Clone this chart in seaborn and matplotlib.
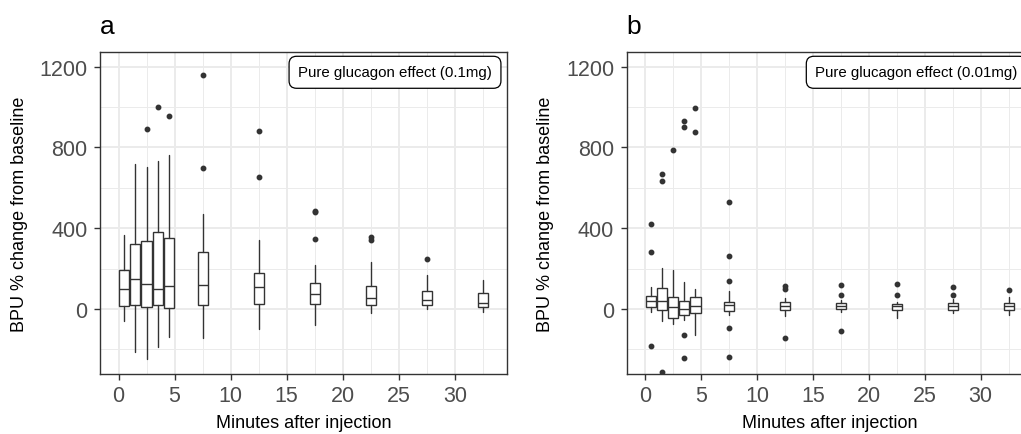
import numpy as np
import matplotlib
matplotlib.use("Agg")
import matplotlib.pyplot as plt
from matplotlib.ticker import MultipleLocator
import seaborn as sns

# time points (minutes after injection)
times = [0.5, 1.5, 2.5, 3.5, 4.5, 7.5, 12.5, 17.5, 22.5, 27.5, 32.5]

# panel a: 0.1 mg  (box stats)
lo_a = [-61, -214, -247, -189, -140, -145, -100, -77, -20, -2, -13]
q1_a = [16, 21, 10, 21, 3, 18, 23, 23, 18, 18, 12]
med_a = [100, 148, 125, 99, 114, 120, 107, 74, 56, 43, 30]
q3_a = [193, 321, 337, 379, 349, 280, 176, 128, 115, 89, 77]
hi_a = [367, 716, 701, 732, 760, 472, 342, 217, 230, 168, 143]
fliers_a = [[], [], [892], [1001], [955], [1157, 700], [880, 653],
            [487, 482, 347], [357, 341], [247], []]

# panel b: 0.01 mg
lo_b = [-13, -62, -76, -54, -128, -28, -36, -16, -43, -21, -28]
q1_b = [8, -3, -46, -28, -21, -8, -3, -2, -7, -5, -5]
med_b = [41, 38, 12, 0, 13, 18, 16, 15, 13, 16, 13]
q3_b = [66, 104, 61, 38, 58, 33, 36, 31, 25, 31, 31]
hi_b = [110, 202, 191, 132, 97, 89, 53, 46, 36, 49, 58]
fliers_b = [[420, 280, -184], [667, 634, -311], [787], [930, 902, -130, -245],
            [993, 876], [527, 260, 137, -92, -239], [115, 99, -146],
            [120, 71, -109], [125, 67], [109, 67], [94]]

panels = [("a", "Pure glucagon effect (0.1mg)", lo_a, q1_a, med_a, q3_a, hi_a, fliers_a),
          ("b", "Pure glucagon effect (0.01mg)", lo_b, q1_b, med_b, q3_b, hi_b, fliers_b)]

sns.set_theme(style="white")
plt.rcParams['font.family'] = ['Liberation Sans', 'DejaVu Sans']

fig = plt.figure(figsize=(10.21, 4.35), dpi=100)
ax_pos = [[100 / 1021, 60 / 435, 407 / 1021, 322 / 435],
          [626.7 / 1021, 60 / 435, 406 / 1021, 322 / 435]]

dark = "#333333"
for pos, (tag, note, lo, q1, med, q3, hi, fl) in zip(ax_pos, panels):
    ax = fig.add_axes(pos)
    stats = []
    for i in range(len(times)):
        stats.append(dict(whislo=lo[i], q1=q1[i], med=med[i], q3=q3[i],
                          whishi=hi[i], fliers=fl[i]))
    ax.bxp(stats, positions=times, widths=0.9, showcaps=False, showfliers=True,
           patch_artist=True, manage_ticks=False,
           boxprops=dict(facecolor="white", edgecolor=dark, linewidth=1.0),
           medianprops=dict(color=dark, linewidth=1.0),
           whiskerprops=dict(color=dark, linewidth=1.0),
           flierprops=dict(marker="o", markersize=3.2, markerfacecolor=dark,
                           markeredgecolor=dark, linestyle="none"))

    ax.set_xlim(-1.65, 34.65)
    ax.set_ylim(-322, 1272)
    ax.xaxis.set_major_locator(MultipleLocator(5))
    ax.xaxis.set_minor_locator(MultipleLocator(2.5))
    ax.yaxis.set_major_locator(MultipleLocator(400))
    ax.yaxis.set_minor_locator(MultipleLocator(200))
    ax.grid(which="major", color="#EBEBEB", linewidth=1.4)
    ax.grid(which="minor", color="#EBEBEB", linewidth=0.7)
    ax.set_axisbelow(True)
    for s in ax.spines.values():
        s.set_color(dark)
        s.set_linewidth(1.0)
    ax.tick_params(which="major", length=4.5, width=1.0, color=dark,
                   labelsize=15.5, labelcolor="#4D4D4D", bottom=True, left=True)
    ax.tick_params(axis="x", pad=3.5)
    ax.tick_params(axis="y", pad=4.5)
    ax.tick_params(which="minor", length=0)

    ax.set_xlabel("Minutes after injection", fontsize=13, color="black")
    ax.xaxis.set_label_coords(0.5, -0.125)
    ax.set_ylabel("BPU % change from baseline", fontsize=13, color="black")
    ax.yaxis.set_label_coords(-0.178, 0.5)
    ax.set_title(tag, loc="left", fontsize=19, pad=14, color="black")

    ax.text(0.963, 0.937, note, transform=ax.transAxes, ha="right", va="center",
            fontsize=10.8, color="black",
            bbox=dict(boxstyle="round,pad=0.6,rounding_size=0.5", facecolor="white",
                      edgecolor="black", linewidth=0.9))

fig.savefig("out.png", dpi=100)
